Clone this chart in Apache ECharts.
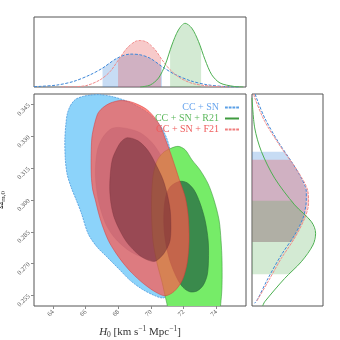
<!DOCTYPE html>
<html>
<head>
<meta charset="utf-8">
<script src="https://cdn.jsdelivr.net/npm/echarts@6/dist/echarts.min.js"></script>
<style>
html,body{margin:0;padding:0;background:#fff}
#chart{width:340px;height:340px}
</style>
</head>
<body>
<div id="chart"></div>
<script>
// axis ranges and ticks
const h0Range = [62.83, 75.82];
const omRange = [0.25, 0.35];
const h0Ticks = [64, 66, 68, 70, 72, 74];
const omTicks = [0.255, 0.27, 0.285, 0.3, 0.315, 0.33, 0.345];

// 2D contours (H0, Omega_m0)
const blueOuterH = [65.06, 65.36, 65.79, 66.28, 66.89, 67.62, 68.42, 69.21, 69.95, 70.56, 70.93, 71.17, 71.36, 71.42, 71.42, 71.36, 71.23, 71.05, 70.74, 70.25, 69.46, 68.72, 68.05, 67.32, 66.71, 66.16, 65.73, 65.42, 65.12, 64.87, 64.75, 64.72, 64.78, 64.87];
const blueOuterOm = [0.3445, 0.3474, 0.3488, 0.3495, 0.3497, 0.3488, 0.3469, 0.3441, 0.3403, 0.3351, 0.3298, 0.3237, 0.3142, 0.3000, 0.2858, 0.2716, 0.2612, 0.2555, 0.2538, 0.2548, 0.2579, 0.2621, 0.2673, 0.2730, 0.2777, 0.2839, 0.2938, 0.3000, 0.3057, 0.3118, 0.3189, 0.3284, 0.3355, 0.3407];
const blueInnerH = [67.61, 67.00, 66.69, 66.59, 66.77, 67.20, 67.69, 68.22, 68.79, 69.44, 70.07, 70.66, 71.05, 71.29, 71.42, 71.36, 71.11, 70.68, 70.07, 69.34, 68.42];
const blueInnerOm = [0.3338, 0.3290, 0.3227, 0.3118, 0.3000, 0.2891, 0.2829, 0.2787, 0.2754, 0.2731, 0.2716, 0.2706, 0.2725, 0.2787, 0.2882, 0.3000, 0.3104, 0.3199, 0.3270, 0.3317, 0.3339];
const greenOuterH = [71.17, 71.66, 72.09, 72.51, 73.00, 73.50, 73.86, 74.17, 74.29, 74.35, 74.35, 74.29, 74.17, 73.80, 73.00, 72.09, 71.17, 70.93, 70.68, 70.37, 70.13, 70.04, 70.04, 70.13, 70.37, 70.74];
const greenOuterOm = [0.3242, 0.3253, 0.3237, 0.3189, 0.3142, 0.3076, 0.3000, 0.2905, 0.2810, 0.2716, 0.2597, 0.2526, 0.2469, 0.2441, 0.2432, 0.2441, 0.2469, 0.2526, 0.2612, 0.2702, 0.2801, 0.2915, 0.3024, 0.3118, 0.3185, 0.3223];
const greenInnerH = [71.78, 72.21, 72.64, 73.00, 73.31, 73.50, 73.52, 73.44, 73.19, 72.82, 72.39, 71.96, 71.57, 71.17, 70.93, 70.80, 70.80, 70.93, 71.23];
const greenInnerOm = [0.3088, 0.3081, 0.3047, 0.2986, 0.2905, 0.2810, 0.2716, 0.2645, 0.2597, 0.2571, 0.2567, 0.2588, 0.2635, 0.2711, 0.2787, 0.2867, 0.2953, 0.3024, 0.3066];
const redOuterH = [66.40, 66.71, 67.01, 67.50, 68.11, 68.72, 69.21, 69.76, 70.25, 70.62, 70.86, 71.17, 71.48, 71.78, 72.09, 72.27, 72.33, 72.21, 71.91, 71.42, 70.86, 70.25, 69.52, 68.85, 68.30, 67.81, 67.38, 67.01, 66.77, 66.59, 66.43, 66.34, 66.34];
const redOuterOm = [0.3308, 0.3403, 0.3433, 0.3457, 0.3469, 0.3464, 0.3450, 0.3426, 0.3386, 0.3341, 0.3291, 0.3227, 0.3156, 0.3085, 0.3014, 0.2929, 0.2810, 0.2702, 0.2621, 0.2569, 0.2548, 0.2567, 0.2607, 0.2654, 0.2702, 0.2754, 0.2810, 0.2882, 0.2943, 0.3000, 0.3047, 0.3118, 0.3237];
const redInnerH = [68.54, 69.21, 69.83, 70.31, 70.74, 71.05, 71.20, 71.17, 70.80, 70.25, 69.70, 69.21, 68.60, 68.17, 67.75, 67.56, 67.47, 67.50, 67.62, 67.87, 68.17];
const redInnerOm = [0.3294, 0.3279, 0.3232, 0.3166, 0.3095, 0.3009, 0.2929, 0.2810, 0.2749, 0.2711, 0.2720, 0.2744, 0.2792, 0.2844, 0.2915, 0.2976, 0.3047, 0.3118, 0.3189, 0.3237, 0.3275];

// marginal of H0 (top panel)
const blueH = [62.83, 63.22, 64.24, 65.26, 66.28, 67.03, 67.91, 68.73, 69.34, 69.95, 70.67, 71.38, 72.40, 73.42, 74.64, 75.46];
const blueHP = [0.005, 0.009, 0.028, 0.08, 0.175, 0.27, 0.41, 0.47, 0.46, 0.41, 0.293, 0.19, 0.09, 0.033, 0.004, 0];
const redH = [64.5, 65.26, 66.08, 66.89, 67.50, 68.01, 68.53, 69.03, 69.34, 69.75, 70.26, 70.67, 71.17, 71.79, 72.60, 73.82, 74.84];
const redHP = [0, 0.003, 0.023, 0.104, 0.222, 0.389, 0.556, 0.65, 0.664, 0.64, 0.53, 0.39, 0.246, 0.128, 0.047, 0.009, 0];
const greenH = [69.34, 69.95, 70.46, 70.87, 71.28, 71.68, 72.09, 72.50, 72.91, 73.31, 73.72, 74.23, 75.05, 75.66];
const greenHP = [0, 0.028, 0.128, 0.317, 0.60, 0.815, 0.91, 0.84, 0.65, 0.39, 0.175, 0.057, 0.009, 0];
// 68% bands of the H0 marginals
const blueBandH = [67.03, 67.91, 68.73, 69.34, 69.95, 70.67];
const blueBandHP = [0.27, 0.41, 0.47, 0.46, 0.41, 0.293];
const redBandH = [67.98, 68.53, 69.03, 69.34, 69.75, 70.26, 70.61];
const redBandHP = [0.38, 0.556, 0.65, 0.664, 0.64, 0.53, 0.405];
const greenBandH = [71.17, 71.28, 71.68, 72.09, 72.50, 72.91, 73.07];
const greenBandHP = [0.53, 0.60, 0.815, 0.91, 0.84, 0.65, 0.55];

// marginal of Omega_m0 (right panel)
const blueOm = [0.35, 0.3482, 0.3387, 0.3276, 0.3182, 0.3103, 0.3040, 0.3009, 0.2977, 0.2914, 0.2835, 0.2741, 0.2630, 0.2536, 0.2513];
const blueOmP = [0.045, 0.062, 0.179, 0.366, 0.554, 0.695, 0.765, 0.765, 0.76, 0.718, 0.600, 0.413, 0.225, 0.085, 0.038];
const redOm = [0.35, 0.3482, 0.3371, 0.3245, 0.3135, 0.3040, 0.2985, 0.2914, 0.2820, 0.2725, 0.2614, 0.2520];
const redOmP = [0.025, 0.038, 0.179, 0.415, 0.646, 0.788, 0.797, 0.742, 0.600, 0.413, 0.225, 0.062];
const greenOm = [0.3482, 0.3340, 0.3229, 0.3103, 0.2977, 0.2898, 0.2843, 0.2788, 0.2709, 0.2630, 0.2520, 0.25];
const greenOmP = [0, 0.038, 0.132, 0.319, 0.601, 0.836, 0.896, 0.859, 0.695, 0.46, 0.179, 0.15];
const blueBandOm = [0.3228, 0.3182, 0.3103, 0.3040, 0.3009, 0.2977, 0.2914, 0.2835, 0.2802];
const blueBandOmP = [0.462, 0.554, 0.695, 0.765, 0.765, 0.76, 0.718, 0.600, 0.534];
const redBandOm = [0.3190, 0.3135, 0.3040, 0.2985, 0.2914, 0.2820, 0.2802];
const redBandOmP = [0.53, 0.646, 0.788, 0.797, 0.742, 0.600, 0.565];
const greenBandOm = [0.2996, 0.2977, 0.2898, 0.2843, 0.2788, 0.2709, 0.2650];
const greenBandOmP = [0.56, 0.601, 0.836, 0.896, 0.859, 0.695, 0.52];

const names = ['CC + SN', 'CC + SN + R21', 'CC + SN + F21'];
const serif = 'Liberation Serif';

const zip = (a, b) => a.map((v, i) => [v, b[i]]);

// one filled polygon through all points of a series
function poly(name, idx, pts, style, smooth) {
  return {
    type: 'custom', name, xAxisIndex: idx, yAxisIndex: idx, clip: true, silent: true,
    data: pts,
    renderItem(params, api) {
      if (params.dataIndex !== 0) return null;
      return { type: 'polygon', shape: { points: pts.map(p => api.coord(p)), smooth: smooth }, style };
    }
  };
}
// band under a marginal curve, closed on the zero line
function topBand(name, xs, ps, color) {
  const pts = [[xs[0], 0]].concat(zip(xs, ps), [[xs[xs.length - 1], 0]]);
  return poly(name, 1, pts, { fill: color }, 0);
}
function sideBand(name, oms, ps, color) {
  const pts = [[0, oms[0]]].concat(zip(ps, oms), [[0, oms[oms.length - 1]]]);
  return poly(name, 2, pts, { fill: color }, 0);
}
function curve(name, idx, pts, color, type) {
  return {
    type: 'line', name, xAxisIndex: idx, yAxisIndex: idx, data: pts, smooth: 0.3,
    showSymbol: false, silent: true, clip: true,
    lineStyle: { color, width: 1, type }
  };
}

const tickLabel = { fontFamily: serif, fontSize: 6.5, color: '#555', rotate: 45 };
const hidden = { axisLine: { show: false }, axisTick: { show: false }, axisLabel: { show: false }, splitLine: { show: false } };
const frame = { show: true, borderColor: '#555', borderWidth: 1, outerBoundsMode: 'none', containLabel: false };

const chart = echarts.init(document.getElementById('chart'), null, { renderer: 'canvas' });
chart.setOption({
  animation: false,
  backgroundColor: '#fff',
  grid: [
    Object.assign({ left: 34, top: 94, width: 212, height: 212 }, frame),
    Object.assign({ left: 34, top: 17, width: 212, height: 70 }, frame),
    Object.assign({ left: 252, top: 94, width: 71, height: 212 }, frame)
  ],
  xAxis: [
    {
      type: 'value', gridIndex: 0, min: h0Range[0], max: h0Range[1],
      axisLine: { show: false }, splitLine: { show: false },
      axisTick: { show: true, length: 3, lineStyle: { color: '#888' }, customValues: h0Ticks },
      axisLabel: Object.assign({ margin: 5, customValues: h0Ticks }, tickLabel),
      name: '{i|H}{sub|0} [km s{sup|\u22121} Mpc{sup|\u22121}]',
      nameLocation: 'middle', nameGap: 13,
      nameTextStyle: {
        fontFamily: serif, fontSize: 11, color: '#333', lineHeight: 14,
        rich: {
          i: { fontFamily: serif, fontStyle: 'italic', fontSize: 11, lineHeight: 14, color: '#333' },
          sub: { fontFamily: serif, fontSize: 7.5, lineHeight: 14, verticalAlign: 'bottom', color: '#333' },
          sup: { fontFamily: serif, fontSize: 7.5, lineHeight: 14, verticalAlign: 'top', color: '#333' }
        }
      }
    },
    Object.assign({ type: 'value', gridIndex: 1, min: h0Range[0], max: h0Range[1] }, hidden),
    Object.assign({ type: 'value', gridIndex: 2, min: 0, max: 1 }, hidden)
  ],
  yAxis: [
    {
      type: 'value', gridIndex: 0, min: omRange[0], max: omRange[1],
      axisLine: { show: false }, splitLine: { show: false },
      axisTick: { show: true, length: 3, lineStyle: { color: '#888' }, customValues: omTicks },
      axisLabel: Object.assign({ margin: 5, customValues: omTicks, formatter: v => v.toFixed(3) }, tickLabel),
      name: '{a|\u03A9}{b|m,0}',
      nameLocation: 'middle', nameGap: 24, nameRotate: 90,
      nameTextStyle: {
        fontFamily: serif, fontSize: 10, color: '#333', lineHeight: 12,
        rich: {
          a: { fontFamily: serif, fontSize: 10, lineHeight: 12, color: '#333' },
          b: { fontFamily: serif, fontSize: 7, lineHeight: 12, verticalAlign: 'bottom', color: '#333' }
        }
      }
    },
    Object.assign({ type: 'value', gridIndex: 1, min: 0, max: 1 }, hidden),
    Object.assign({ type: 'value', gridIndex: 2, min: omRange[0], max: omRange[1] }, hidden)
  ],
  legend: {
    orient: 'vertical', right: 96, top: 97, align: 'right',
    itemWidth: 14, itemHeight: 2, itemGap: 0, symbolKeepAspect: false,
    selectedMode: false,
    textStyle: { fontFamily: serif, fontSize: 10, lineHeight: 11, padding: [0, 1, 0, 0] },
    data: [
      { name: names[0], icon: 'path://M0,0H3V1H0Z M4,0H7V1H4Z M8,0H11V1H8Z M12,0H15V1H12Z', itemStyle: { color: '#5a9fe6' }, textStyle: { color: '#6aa6ee' } },
      { name: names[1], icon: 'rect', itemStyle: { color: '#3f9b3f' }, textStyle: { color: '#5cb85c' } },
      { name: names[2], icon: 'path://M0,0H3V1H0Z M4,0H7V1H4Z M8,0H11V1H8Z M12,0H15V1H12Z', itemStyle: { color: '#f07d7d' }, textStyle: { color: '#ef5b5b' } }
    ]
  },
  series: [
    poly(names[0], 0, zip(blueOuterH, blueOuterOm), { fill: 'rgb(140,211,250)', stroke: '#3f8fd9', lineWidth: 0.7, lineDash: [2, 1] }, 0.3),
    poly(names[0], 0, zip(blueInnerH, blueInnerOm), { fill: 'rgba(30,100,180,0.4)', stroke: 'rgba(40,90,160,0.4)', lineWidth: 0.5 }, 0.3),
    poly(names[1], 0, zip(greenOuterH, greenOuterOm), { fill: 'rgb(118,236,104)', stroke: '#3f9b3f', lineWidth: 0.6 }, 0.3),
    poly(names[1], 0, zip(greenInnerH, greenInnerOm), { fill: 'rgb(58,138,76)', stroke: '#2c6b3a', lineWidth: 0.6 }, 0.3),
    poly(names[2], 0, zip(redOuterH, redOuterOm), { fill: 'rgba(255,85,76,0.7)', stroke: 'rgba(220,60,60,0.9)', lineWidth: 0.6 }, 0.3),
    poly(names[2], 0, zip(redInnerH, redInnerOm), { fill: 'rgba(100,38,50,0.5)', stroke: 'rgba(110,40,50,0.6)', lineWidth: 0.5 }, 0.3),

    topBand(names[0], blueBandH, blueBandHP, 'rgba(70,140,220,0.3)'),
    topBand(names[2], redBandH, redBandHP, 'rgba(230,80,80,0.3)'),
    topBand(names[1], greenBandH, greenBandHP, 'rgba(80,170,80,0.25)'),
    curve(names[0], 1, zip(blueH, blueHP), '#3c86d8', [3, 1.5]),
    curve(names[2], 1, zip(redH, redHP), '#f08a8a', [3, 1]),
    curve(names[1], 1, zip(greenH, greenHP), '#4caf50', 'solid'),

    sideBand(names[0], blueBandOm, blueBandOmP, 'rgba(70,140,220,0.3)'),
    sideBand(names[2], redBandOm, redBandOmP, 'rgba(230,80,80,0.3)'),
    sideBand(names[1], greenBandOm, greenBandOmP, 'rgba(80,170,80,0.25)'),
    curve(names[0], 2, zip(blueOmP, blueOm), '#3c86d8', [3, 1.5]),
    curve(names[2], 2, zip(redOmP, redOm), '#f08a8a', [3, 1]),
    curve(names[1], 2, zip(greenOmP, greenOm), '#4caf50', 'solid')
  ]
});
</script>
</body>
</html>
